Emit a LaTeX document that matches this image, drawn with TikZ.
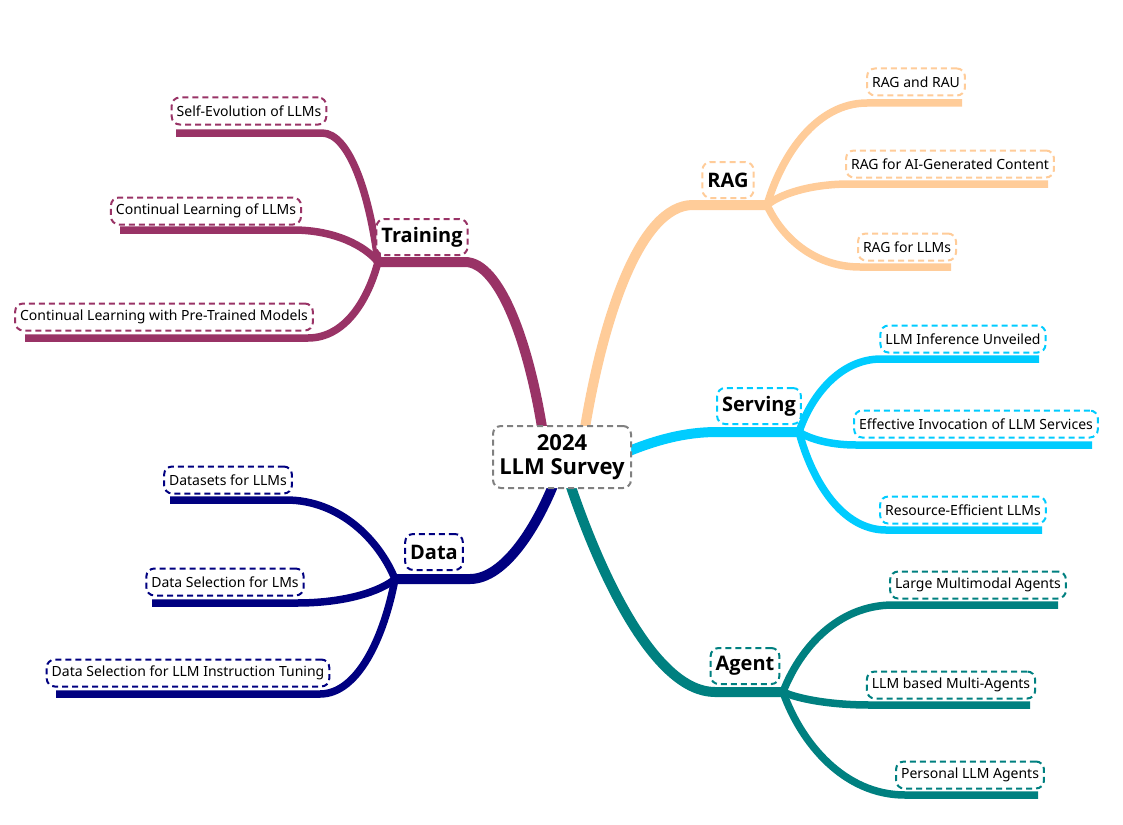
\documentclass[tikz,border=0pt]{standalone}
\usepackage{fontspec}
\setmainfont{Noto Sans}
\IfFontExistsTF{Noto Sans Bold}{\newfontfamily\headfont{Noto Sans Bold}}{%
  \IfFontExistsTF{Open Sans Bold}{\newfontfamily\headfont{Open Sans Bold}}{%
    \newfontfamily\headfont{Noto Sans}[FakeBold=2.5]}}
\usetikzlibrary{backgrounds}
\definecolor{ctrain}{HTML}{993366}
\definecolor{crag}{HTML}{FFCC99}
\definecolor{cserv}{HTML}{00CCFF}
\definecolor{cagent}{HTML}{008080}
\definecolor{cdata}{HTML}{000080}
\definecolor{ccenter}{HTML}{808080}
\begin{document}
\begin{tikzpicture}[x=1pt,y=-1pt,
  dbox/.style={draw=#1, line width=2pt, dash pattern=on 6pt off 4pt, rounded corners=8pt, fill=white, inner xsep=5pt, inner ysep=0pt, text=black},
  leafbox/.style={dbox=#1, font=\fontsize{14}{16}\selectfont, minimum height=27pt},
  mainbox/.style={dbox=#1, font=\fontsize{20}{24}\headfont, minimum height=36pt},
  mainline/.style={draw=#1, line width=10pt},
  subline/.style={draw=#1, line width=7.5pt},
]
\path[use as bounding box] (0,0) rectangle (1123,824);

% ---------- nodes ----------
\node[dbox=ccenter, align=center, font=\fontsize{22}{24}\headfont, minimum width=138pt, minimum height=62pt] (c) at (562,457) {2024\\LLM Survey};

\node[mainbox=ctrain] (tr) at (422,237) {Training};
\node[mainbox=crag] (rag) at (728,180) {RAG};
\node[mainbox=cserv] (sv) at (759,406) {Serving};
\node[mainbox=cagent] (ag) at (745,666) {Agent};
\node[mainbox=cdata] (da) at (434,552) {Data};

\node[leafbox=ctrain] (tse) at (249,111) {Self-Evolution of LLMs};
\node[leafbox=ctrain] (tcl) at (206,211) {Continual Learning of LLMs};
\node[leafbox=ctrain] (tcp) at (164,317) {Continual Learning with Pre-Trained Models};

\node[leafbox=crag] (rra) at (916,82) {RAG and RAU};
\node[leafbox=crag] (rrc) at (950,164) {RAG for AI-Generated Content};
\node[leafbox=crag] (rrl) at (907,247) {RAG for LLMs};

\node[leafbox=cserv] (ssi) at (963,339) {LLM Inference Unveiled};
\node[leafbox=cserv] (sse) at (976,424) {Effective Invocation of LLM Services};
\node[leafbox=cserv] (ssr) at (963,510) {Resource-Efficient LLMs};

\node[leafbox=cagent] (aam) at (978,585) {Large Multimodal Agents};
\node[leafbox=cagent] (aab) at (951,685) {LLM based Multi-Agents};
\node[leafbox=cagent] (aap) at (970,775) {Personal LLM Agents};

\node[leafbox=cdata] (ddd) at (228,480) {Datasets for LLMs};
\node[leafbox=cdata] (dds) at (225,582) {Data Selection for LMs};
\node[leafbox=cdata] (ddi) at (188,673) {Data Selection for LLM Instruction Tuning};

% ---------- coordinates ----------
\coordinate (c-tr) at (544,440);
\coordinate (c-rag) at (583,440);
\coordinate (c-sv) at (622,454);
\coordinate (c-ag) at (568,478);
\coordinate (c-da) at (556,478);

\coordinate (trL) at (465,262); \coordinate (trH) at (378,262);
\coordinate (ragL) at (693,205); \coordinate (ragH) at (767,205);
\coordinate (svL) at (717,432); \coordinate (svH) at (799,432);
\coordinate (agL) at (715,692); \coordinate (agH) at (783,692);
\coordinate (daL) at (470,579); \coordinate (daH) at (395,579);

\coordinate (tseL) at (322,133); \coordinate (tseE) at (176,133);
\coordinate (tclL) at (293,230); \coordinate (tclE) at (120,230);
\coordinate (tcpL) at (308,338); \coordinate (tcpE) at (25,338);

\coordinate (rraL) at (867,103); \coordinate (rraE) at (962,103);
\coordinate (rrcL) at (850,184); \coordinate (rrcE) at (1048,184);
\coordinate (rrlL) at (860,267); \coordinate (rrlE) at (951,267);

\coordinate (ssiL) at (881,359); \coordinate (ssiE) at (1039,359);
\coordinate (sseL) at (856,445); \coordinate (sseE) at (1092,445);
\coordinate (ssrL) at (886,530); \coordinate (ssrE) at (1042,530);

\coordinate (aamL) at (893,605); \coordinate (aamE) at (1058,605);
\coordinate (aabL) at (870,705); \coordinate (aabE) at (1030,705);
\coordinate (aapL) at (905,795); \coordinate (aapE) at (1038,795);

\coordinate (dddL) at (286,500); \coordinate (dddE) at (170,500);
\coordinate (ddsL) at (297,603); \coordinate (ddsE) at (152,603);
\coordinate (ddiL) at (320,694); \coordinate (ddiE) at (56,694);

% ---------- connectors ----------
\begin{scope}[on background layer]
\fill[white] (0,0) rectangle (1123,824);
% main branches
\draw[mainline=ctrain] (c-tr) .. controls (530,345) and (500,262) .. (trL) -- (trH);
\draw[mainline=crag] (c-rag) .. controls (602,318) and (640,205) .. (ragL) -- (ragH);
\draw[mainline=cserv] (c-sv) .. controls (655,440) and (685,432) .. (svL) -- (svH);
\draw[mainline=cagent] (c-ag) .. controls (600,575) and (655,692) .. (agL) -- (agH);
\draw[mainline=cdata] (c-da) .. controls (538,525) and (505,579) .. (daL) -- (daH);

% training leaves
\draw[subline=ctrain] (trH) .. controls (370,197) and (350,133) .. (tseL) -- (tseE);
\draw[subline=ctrain] (trH) .. controls (365,246) and (335,230) .. (tclL) -- (tclE);
\draw[subline=ctrain] (trH) .. controls (368,300) and (345,338) .. (tcpL) -- (tcpE);
% rag leaves
\draw[subline=crag] (ragH) .. controls (782,154) and (817,103) .. (rraL) -- (rraE);
\draw[subline=crag] (ragH) .. controls (779,195) and (808,184) .. (rrcL) -- (rrcE);
\draw[subline=crag] (ragH) .. controls (781,236) and (813,267) .. (rrlL) -- (rrlE);
% serving leaves
\draw[subline=cserv] (svH) .. controls (811,396) and (840,359) .. (ssiL) -- (ssiE);
\draw[subline=cserv] (svH) .. controls (808,438) and (828,445) .. (sseL) -- (sseE);
\draw[subline=cserv] (svH) .. controls (812,481) and (842,530) .. (ssrL) -- (ssrE);
% agent leaves
\draw[subline=cagent] (agH) .. controls (800,648) and (838,605) .. (aamL) -- (aamE);
\draw[subline=cagent] (agH) .. controls (796,698) and (827,705) .. (aabL) -- (aabE);
\draw[subline=cagent] (agH) .. controls (801,743) and (844,795) .. (aapL) -- (aapE);
% data leaves
\draw[subline=cdata] (daH) .. controls (379,540) and (340,500) .. (dddL) -- (dddE);
\draw[subline=cdata] (daH) .. controls (381,591) and (346,603) .. (ddsL) -- (ddsE);
\draw[subline=cdata] (daH) .. controls (384,637) and (358,694) .. (ddiL) -- (ddiE);
\end{scope}
\end{tikzpicture}
\end{document}
